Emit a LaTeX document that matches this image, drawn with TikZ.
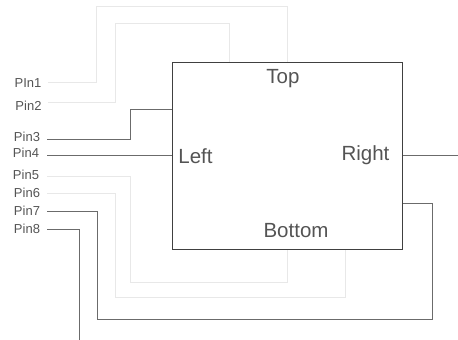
\documentclass[tikz,border=0pt]{standalone}
\usepackage{fontspec}
\setmainfont{Liberation Sans}
\usepackage{xcolor}
\definecolor{inkgray}{gray}{0.33}
\definecolor{wiredark}{gray}{0.42}
\definecolor{wirefaint}{gray}{0.91}

\begin{document}
\begin{tikzpicture}[x=1pt,y=-1pt,
  darkwire/.style={draw=wiredark,line width=0.9pt},
  paleline/.style={draw=wirefaint,line width=1pt},
  pinlabel/.style={text=inkgray,inner sep=0pt,font=\fontsize{13}{15}\selectfont},
  sidelabel/.style={text=inkgray,inner sep=0pt,font=\fontsize{20.5}{24}\selectfont}]
  \useasboundingbox (0,0) rectangle (458,340);

  \node[pinlabel] (pin1) at (28,83)    {PIn1};
  \node[pinlabel] (pin2) at (28.5,106) {Pin2};
  \node[pinlabel] (pin3) at (27,137)   {Pin3};
  \node[pinlabel] (pin4) at (26,152.5) {Pin4};
  \node[pinlabel] (pin5) at (26,175)   {Pin5};
  \node[pinlabel] (pin6) at (27,193)   {Pin6};
  \node[pinlabel] (pin7) at (27,211)   {Pin7};
  \node[pinlabel] (pin8) at (27,229)   {Pin8};

  \coordinate (w1) at (48,82);
  \coordinate (w2) at (48,102);
  \coordinate (w3) at (47,139);
  \coordinate (w4) at (47,155.5);
  \coordinate (w5) at (47,176.5);
  \coordinate (w6) at (47,193);
  \coordinate (w7) at (47,211);
  \coordinate (w8) at (47,229.5);
  \coordinate (end8) at (79,340);
  \coordinate (endr) at (458,155.5);

  \draw[paleline] (w1)--(96,82)--(96,6.5)--(287,6.5)--(287,62);
  \draw[paleline] (w2)--(115.5,102)--(115.5,23.5)--(229.5,23.5)--(229.5,62);
  \draw[paleline] (w5)--(130.5,176.5)--(130.5,282)--(287,282)--(287,249.5);
  \draw[paleline] (w6)--(115,193)--(115,297)--(345,297)--(345,249.5);
  \draw[darkwire] (w3)--(130,139)--(130,109)--(172,109);
  \draw[darkwire] (w4)--(172,155.5);
  \draw[darkwire] (w7)--(97,211)--(97,319.5)--(432.5,319.5)--(432.5,203)--(402,203);
  \draw[darkwire] (w8)--(79,229.5)--(end8);
  \draw[darkwire] (402,155.5)--(endr);

  \node[draw=black!75,line width=0.9pt,minimum width=230pt,minimum height=187.5pt,
    inner sep=0pt] (block) at (287,155.75) {};
  \node[sidelabel] (top) at (283,78.5) {Top};
  \node[sidelabel] (left) at (195.5,156.5) {Left};
  \node[sidelabel] (right) at (365.5,155) {Right};
  \node[sidelabel] (bottom) at (296,230.5) {Bottom};
\end{tikzpicture}
\end{document}
